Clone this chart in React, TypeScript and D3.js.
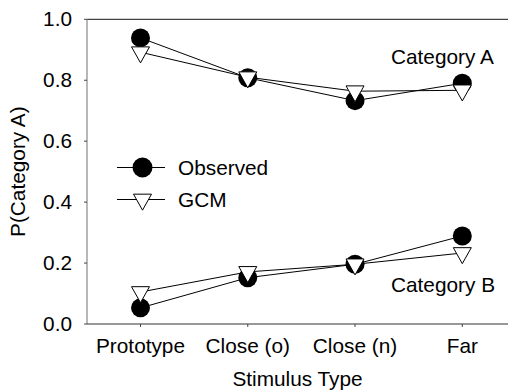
import React from "react";
import * as d3 from "d3";

const categories = ["Prototype", "Close (o)", "Close (n)", "Far"];
const observedA = [0.939, 0.808, 0.733, 0.79];
const gcmA = [0.892, 0.81, 0.764, 0.767];
const observedB = [0.053, 0.152, 0.196, 0.289];
const gcmB = [0.105, 0.171, 0.196, 0.233];
const yTicks = [0, 0.2, 0.4, 0.6, 0.8, 1.0];

const W = 508;
const H = 392;
const FONT = "'Liberation Sans', Arial, sans-serif";
const FS = 20.8;

const x = d3.scaleLinear().domain([0, 3]).range([140.5, 462.3]);
const y = d3.scaleLinear().domain([0, 1]).range([324, 19.3]);
const left = 87;
const right = 508;

const line = d3
  .line<number>()
  .x((_, i) => x(i))
  .y((d) => y(d));

const R = 9.5;
const TW = 18;
const TH = 16;
function tri(cx: number, cy: number) {
  return `M${cx - TW / 2},${cy - TH / 3}L${cx + TW / 2},${cy - TH / 3}L${cx},${cy + (2 * TH) / 3}Z`;
}

function Series({ obs, gcm }: { obs: number[]; gcm: number[] }) {
  return (
    <g>
      <path d={line(obs) || ""} fill="none" stroke="#000" strokeWidth={1} />
      <path d={line(gcm) || ""} fill="none" stroke="#000" strokeWidth={1} />
      {obs.map((v, i) => (
        <circle key={"o" + i} cx={x(i)} cy={y(v)} r={R} fill="#000" />
      ))}
      {gcm.map((v, i) => (
        <path key={"g" + i} d={tri(x(i), y(v))} fill="#fff" stroke="#000" strokeWidth={1} />
      ))}
    </g>
  );
}

export default function App() {
  const legX1 = 117;
  const legX2 = 165;
  const legCx = 142.5;
  const legY1 = 167.5;
  const legY2 = 199.5;
  return (
    <svg
      width={W}
      height={H}
      style={{ position: "absolute", left: 0, top: 0, background: "#fff" }}
      fontFamily={FONT}
    >
      <rect x={0} y={0} width={W} height={H} fill="#fff" />
      {/* frame */}
      <line x1={left} x2={right} y1={y(1)} y2={y(1)} stroke="#444" strokeWidth={1.2} />
      <line x1={left} x2={left} y1={y(1)} y2={y(0)} stroke="#888" strokeWidth={1.2} />
      <line x1={left} x2={right} y1={y(0)} y2={y(0)} stroke="#333" strokeWidth={1.2} />
      {/* y ticks */}
      {yTicks.map((t) => (
        <g key={t}>
          <line x1={left - 3} x2={left} y1={y(t)} y2={y(t)} stroke="#444" strokeWidth={1} />
          <text x={72} y={y(t) + 6.5} fontSize={FS} textAnchor="end" fill="#000">
            {t.toFixed(1)}
          </text>
        </g>
      ))}
      {/* x ticks */}
      {categories.map((c, i) => (
        <g key={c}>
          <line x1={x(i)} x2={x(i)} y1={y(0)} y2={y(0) + 3} stroke="#444" strokeWidth={1} />
          <text x={x(i)} y={353} fontSize={FS} textAnchor="middle" fill="#000">
            {c}
          </text>
        </g>
      ))}
      <text x={(left + right) / 2} y={385.5} fontSize={FS} textAnchor="middle" fill="#000">
        Stimulus Type
      </text>
      <text
        transform={`translate(24.5,${(y(0) + y(1)) / 2}) rotate(-90)`}
        fontSize={FS}
        textAnchor="middle"
        fill="#000"
      >
        P(Category A)
      </text>
      <Series obs={observedA} gcm={gcmA} />
      <Series obs={observedB} gcm={gcmB} />
      <text x={391} y={64} fontSize={FS} fill="#000">
        Category A
      </text>
      <text x={391} y={291.5} fontSize={FS} fill="#000">
        Category B
      </text>
      {/* legend */}
      <line x1={legX1} x2={legX2} y1={legY1} y2={legY1} stroke="#000" strokeWidth={1} />
      <circle cx={legCx} cy={legY1} r={R + 0.5} fill="#000" />
      <text x={178} y={legY1 + 7.5} fontSize={FS} fill="#000">
        Observed
      </text>
      <line x1={legX1} x2={legX2} y1={legY2} y2={legY2} stroke="#000" strokeWidth={1} />
      <path d={tri(legCx, legY2)} fill="#fff" stroke="#000" strokeWidth={1} />
      <text x={178} y={legY2 + 7.5} fontSize={FS} fill="#000">
        GCM
      </text>
    </svg>
  );
}
